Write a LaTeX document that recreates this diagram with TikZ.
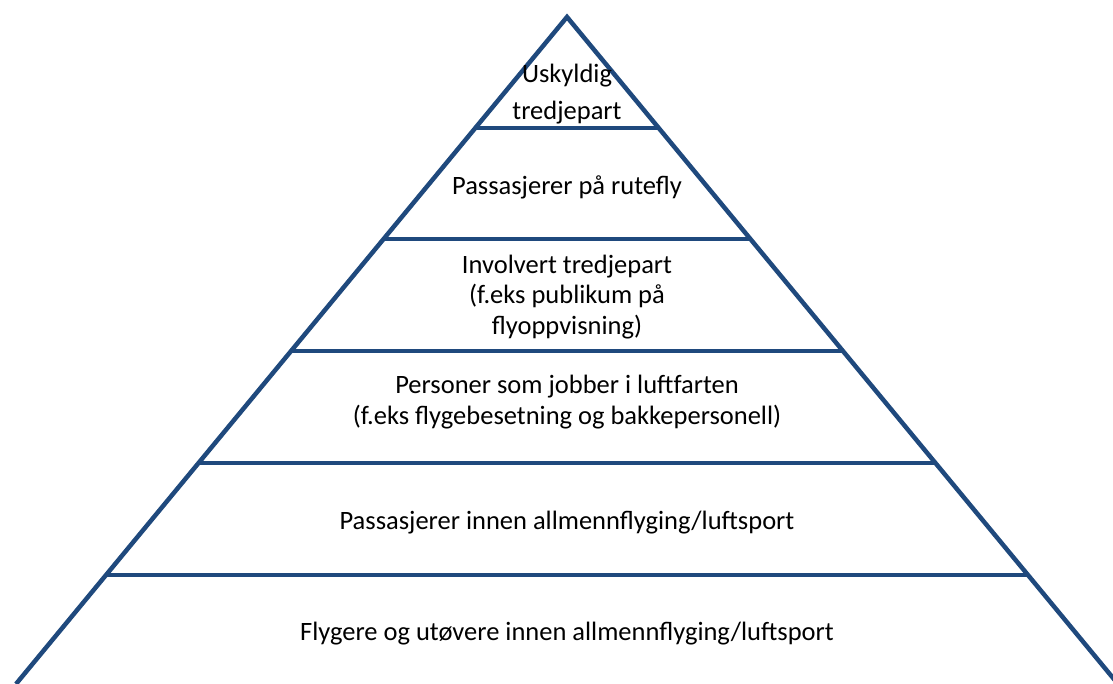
\documentclass[tikz,border=0pt]{standalone}
\usepackage{fontspec}
\setmainfont{Carlito}
\usetikzlibrary{calc}
\definecolor{pyrblue}{HTML}{1F497D}
\begin{document}
\begin{tikzpicture}[x=1pt,y=-1pt,
  edge/.style={draw=pyrblue,line width=4.5pt,line join=miter},
  tier/.style={align=center,font=\fontsize{26.5}{30.5}\selectfont,inner sep=0pt}]
\useasboundingbox (0,0) rectangle (1113,684);
\coordinate (apex) at (567,17);
\coordinate (bl) at (16,684);
\coordinate (br) at (1118,684);
\draw[edge] (bl) -- (apex) -- (br);
\foreach \y/\n in {128/a,239/b,351/c,463/d,575/e}{
  \pgfmathsetmacro{\t}{(\y-17)/667}
  \coordinate (l\n) at ($(apex)!\t!(bl)$);
  \coordinate (r\n) at ($(apex)!\t!(br)$);
  \draw[edge] (l\n) -- (r\n);
}
\node[tier,font=\fontsize{26.5}{37}\selectfont] (t1) at (567,94) {Uskyldig\\tredjepart};
\node[tier] (t2) at (567,187) {Passasjerer på rutefly};
\node[tier] (t3) at (567,297) {Involvert tredjepart\\(f.eks publikum på\\flyoppvisning)};
\node[tier] (t4) at (567,402) {Personer som jobber i luftfarten\\(f.eks flygebesetning og bakkepersonell)};
\node[tier] (t5) at (567,523) {Passasjerer innen allmennflyging/luftsport};
\node[tier] (t6) at (567,634) {Flygere og utøvere innen allmennflyging/luftsport};
\end{tikzpicture}
\end{document}
